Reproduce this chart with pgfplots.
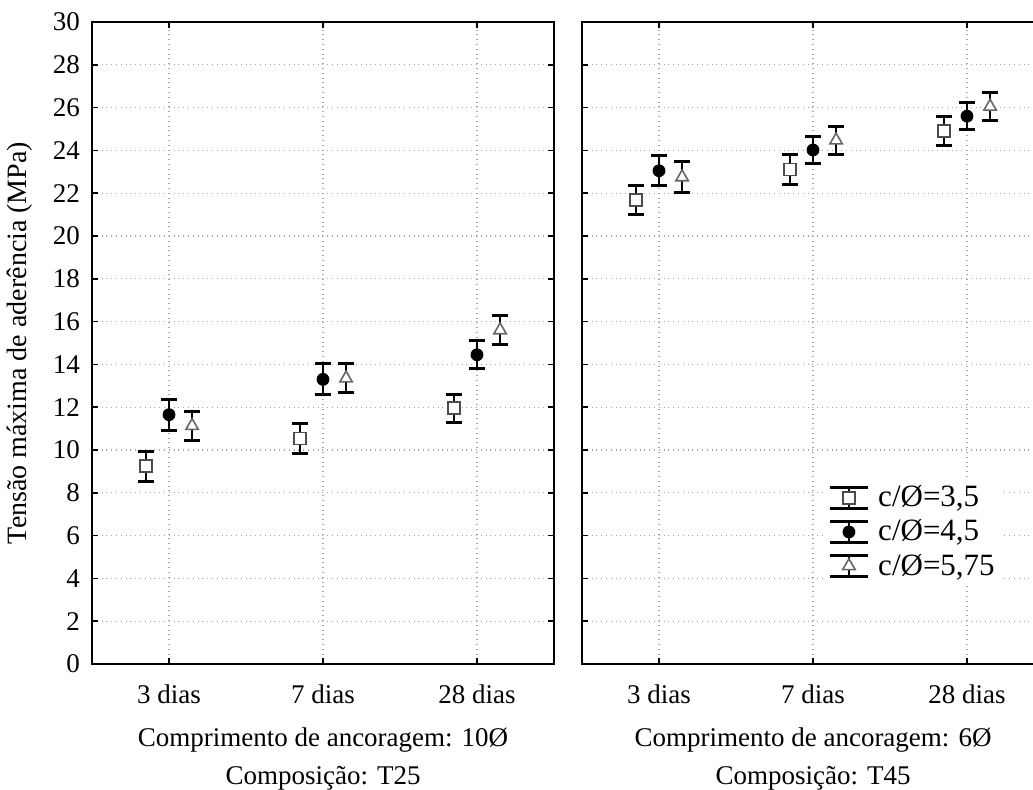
\documentclass[border=0pt]{standalone}
\usepackage{pgfplots}
\pgfplotsset{compat=1.18}
\usepackage{fontspec}
\setmainfont{Liberation Serif}

\pgfplotstableread{
x y e
-0.15 9.25 0.70
0.85 10.53 0.71
1.85 11.95 0.65
}\leftA
\pgfplotstableread{
x y e
0 11.65 0.72
1 13.30 0.72
2 14.45 0.65
}\leftB
\pgfplotstableread{
x y e
0.15 11.13 0.67
1.15 13.35 0.67
2.15 15.60 0.67
}\leftC
\pgfplotstableread{
x y e
-0.15 21.67 0.67
0.85 23.10 0.70
1.85 24.90 0.69
}\rightA
\pgfplotstableread{
x y e
0 23.05 0.69
1 24.02 0.65
2 25.60 0.63
}\rightB
\pgfplotstableread{
x y e
0.15 22.75 0.72
1.15 24.47 0.67
2.15 26.05 0.65
}\rightC

\begin{document}
\begin{tikzpicture}
\pgfplotsset{
  panel/.style={
    scale only axis, width=231pt, height=321pt, anchor=south west,
    xmin=-0.5, xmax=2.5, ymin=0, ymax=30,
    xtick={0,1,2}, xticklabels={3 dias,7 dias,28 dias},
    ytick={0,2,...,30},
    grid=major, major grid style={black!35, dotted, line width=0.6pt},
    axis line style={line width=1pt, black},
    tick style={black, line width=0.8pt},
    major tick length=3pt, tick align=inside,
    /pgf/number format/assume math mode=true,
    ticklabel style={font=\fontsize{13.5}{16}\selectfont},
    xticklabel style={yshift=-7pt},
    yticklabel style={xshift=-2.5pt},
    xlabel style={at={(axis description cs:0.5,-0.0888)}, anchor=north, align=center, font=\fontsize{13.5}{19}\selectfont},
    ylabel style={font=\fontsize{14}{16}\selectfont},
    legend style={font=\fontsize{15.5}{17}\selectfont},
  },
  ebar/.style={only marks, error bars/y dir=both, error bars/y explicit,
    error bars/error bar style={black, line width=1pt},
    error bars/error mark options={black, line width=1.5pt, mark size=4pt, rotate=90}},
  sq/.style={ebar, mark=square*, mark size=3pt, mark options={fill=white, draw=black!70, line width=0.8pt}},
  ci/.style={ebar, mark=*, mark size=3pt, mark options={fill=black, draw=black}},
  tr/.style={ebar, mark=triangle*, mark size=3.6pt, mark options={fill=white, draw=black!60, line width=0.8pt}},
  legimg/.style={legend image code/.code={
      \draw[black, line width=0.9pt] (0pt,-5.2pt)--(0pt,5.2pt);
      \draw[black, line width=1.3pt] (-9.5pt,-5.2pt)--(9.5pt,-5.2pt) (-9.5pt,5.2pt)--(9.5pt,5.2pt);
      \draw[only marks] plot coordinates {(0pt,0pt)};
  }},
}
\begin{axis}[panel, at={(46pt,62.5pt)},
  ylabel={Tensão máxima de aderência (MPa)},
  ylabel style={at={(axis description cs:-0.156,0.5)}, anchor=center},
  xlabel={Comprimento de ancoragem: 10Ø\\Composição: T25}]
\addplot[sq] table[x=x, y=y, y error=e] {\leftA};
\addplot[ci] table[x=x, y=y, y error=e] {\leftB};
\addplot[tr] table[x=x, y=y, y error=e] {\leftC};
\end{axis}
\begin{axis}[panel, at={(291pt,62.5pt)}, yticklabels={},
  xlabel={Comprimento de ancoragem: 6Ø\\Composição: T45},
  legend style={at={(axis description cs:0.52,0.289)}, anchor=north west, draw=none, fill=white,
    row sep=2pt, column sep=3pt, nodes={inner sep=1.5pt}}, legend cell align=left]
\addplot[sq, legimg] table[x=x, y=y, y error=e] {\rightA};
\addlegendentry{c/Ø=3,5}
\addplot[ci, legimg] table[x=x, y=y, y error=e] {\rightB};
\addlegendentry{c/Ø=4,5}
\addplot[tr, legimg] table[x=x, y=y, y error=e] {\rightC};
\addlegendentry{c/Ø=5,75}
\end{axis}
\pgfresetboundingbox
\path[use as bounding box] (0pt,0pt) rectangle (516.5pt,394.5pt);
\end{tikzpicture}
\end{document}
